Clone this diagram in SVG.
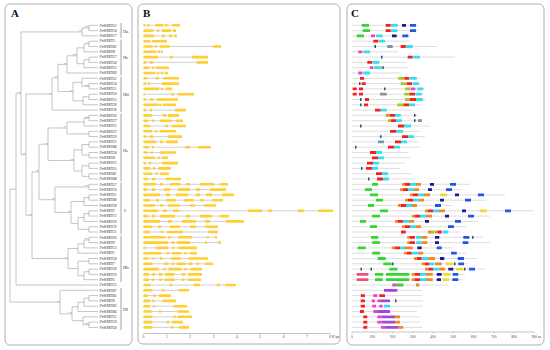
<svg xmlns="http://www.w3.org/2000/svg" width="550" height="350" viewBox="0 0 550 350">
<style>
.frame{fill:#fff;stroke:#9a9a9a;stroke-width:0.8}
.plab{font-family:"Liberation Serif",serif;font-weight:bold;font-size:11px;fill:#111}
.leaf{font-family:"Liberation Serif",serif;font-style:italic;font-size:3.6px;fill:#333}
.bs{font-family:"Liberation Sans",sans-serif;font-size:2.2px;fill:#666;text-anchor:end}
.grp{font-family:"Liberation Serif",serif;font-size:5px;fill:#444}
.tree{fill:none;stroke:#8a8a8a;stroke-width:0.5}
.brk{fill:none;stroke:#666;stroke-width:0.6}
.in{fill:none;stroke:#a0a0a0;stroke-width:0.5}
.ex{fill:none;stroke:#FFCF33;stroke-width:2.6}
.pl{fill:none;stroke:#d0d0d0;stroke-width:0.7}
.mo{fill:none;stroke-width:2.8}
.ax{fill:none;stroke:#888;stroke-width:0.5}
.tk{font-family:"Liberation Serif",serif;font-size:3.6px;fill:#444;text-anchor:middle}
</style>
<rect class="frame" x="5" y="4" width="127" height="341" rx="5"/>
<rect class="frame" x="138" y="4" width="202" height="340" rx="5"/>
<rect class="frame" x="347" y="4" width="197" height="341" rx="5"/>
<text class="plab" x="11" y="17">A</text>
<text class="plab" x="143" y="17">B</text>
<text class="plab" x="351" y="17">C</text>

<g id="tree">
<path class="tree" d="M98 25.3H89V30.6H98M89 27.95H82V35.9H98M98 41.2H89V46.5H98M89 43.85H84V51.8H98M98 57.1H89V62.4H98M89 59.75H84V67.7H98M84 47.83H77V63.73H84M77 55.78H67V73H98M98 83.6H89V88.9H98M98 78.3H82V86.25H89M98 94.2H89V99.5H98M89 96.85H83V104.8H98M82 82.28H73V100.83H83M67 64.39H58V91.55H73M58 77.97H52V110.1H98M98 115.4H89V120.7H98M89 118.05H84V126H98M98 131.3H89V136.6H98M84 122.03H67V133.95H89M98 141.9H89V147.2H98M98 152.5H89V157.8H98M89 144.55H82V155.15H89M98 163.1H89V168.4H98M98 173.7H89V179H98M89 165.75H82V176.35H89M82 149.85H74V171.05H82M67 127.99H48V160.45H74M98 184.3H89V189.6H98M98 194.9H89V200.2H98M89 197.55H84V205.5H98M98 210.8H89V216.1H98M89 213.45H84V221.4H98M98 226.7H89V232H98M84 217.43H78V229.35H89M84 201.53H71V223.39H78M89 186.95H55V212.46H71M48 144.22H39V199.71H55M98 237.3H89V242.6H98M89 239.95H84V247.9H98M84 243.93H78V253.2H98M98 258.5H89V263.8H98M98 269.1H89V274.4H98M89 271.75H84V279.7H98M89 261.15H78V275.73H84M78 248.57H68V268.44H78M39 171.97H32V258.51H68M52 94.04H26V215.24H32M82 31.93H21V154.64H26M21 93.29H16V285H98M98 295.6H89V300.9H98M89 298.25H84V306.2H98M84 302.23H78V311.5H98M98 322.1H89V327.4H98M98 316.8H83V324.75H89M78 306.87H72V320.78H83M98 290.3H60V313.83H72M16 189.15H10V302.07H60"/>
<text class="bs" x="88.5" y="27.4">100</text>
<text class="bs" x="81.5" y="31.4">99</text>
<text class="bs" x="88.5" y="43.3">99</text>
<text class="bs" x="76.5" y="55.2">100</text>
<text class="bs" x="66.5" y="63.8">78</text>
<text class="bs" x="88.5" y="85.7">100</text>
<text class="bs" x="72.5" y="91">99</text>
<text class="bs" x="57.5" y="77.4">96</text>
<text class="bs" x="51.5" y="93.5">74</text>
<text class="bs" x="88.5" y="117.5">100</text>
<text class="bs" x="66.5" y="127.4">99</text>
<text class="bs" x="73.5" y="159.9">86</text>
<text class="bs" x="47.5" y="143.7">96</text>
<text class="bs" x="88.5" y="186.4">100</text>
<text class="bs" x="70.5" y="211.9">93</text>
<text class="bs" x="54.5" y="199.2">99</text>
<text class="bs" x="38.5" y="171.4">58</text>
<text class="bs" x="88.5" y="239.4">100</text>
<text class="bs" x="67.5" y="258">99</text>
<text class="bs" x="31.5" y="214.7">96</text>
<text class="bs" x="25.5" y="154.1">64</text>
<text class="bs" x="20.5" y="92.8">96</text>
<text class="bs" x="88.5" y="324.2">100</text>
<text class="bs" x="71.5" y="313.3">98</text>
<text class="bs" x="59.5" y="301.5">99</text>
</g>

<g id="leaves">
<text class="leaf" x="99.5" y="26.5">PnWRKY53</text>
<text class="leaf" x="99.5" y="31.8">PnWRKY18</text>
<text class="leaf" x="99.5" y="37.1">PnWRKY17</text>
<text class="leaf" x="99.5" y="42.4">PnWRKY3</text>
<text class="leaf" x="99.5" y="47.7">PnWRKY42</text>
<text class="leaf" x="99.5" y="53">PnWRKY8</text>
<text class="leaf" x="99.5" y="58.3">PnWRKY27</text>
<text class="leaf" x="99.5" y="63.6">PnWRKY54</text>
<text class="leaf" x="99.5" y="68.9">PnWRKY25</text>
<text class="leaf" x="99.5" y="74.2">PnWRKY49</text>
<text class="leaf" x="99.5" y="79.5">PnWRKY52</text>
<text class="leaf" x="99.5" y="84.8">PnWRKY14</text>
<text class="leaf" x="99.5" y="90.1">PnWRKY11</text>
<text class="leaf" x="99.5" y="95.4">PnWRKY50</text>
<text class="leaf" x="99.5" y="100.7">PnWRKY15</text>
<text class="leaf" x="99.5" y="106">PnWRKY30</text>
<text class="leaf" x="99.5" y="111.3">PnWRKY36</text>
<text class="leaf" x="99.5" y="116.6">PnWRKY26</text>
<text class="leaf" x="99.5" y="121.9">PnWRKY37</text>
<text class="leaf" x="99.5" y="127.2">PnWRKY32</text>
<text class="leaf" x="99.5" y="132.5">PnWRKY23</text>
<text class="leaf" x="99.5" y="137.8">PnWRKY19</text>
<text class="leaf" x="99.5" y="143.1">PnWRKY33</text>
<text class="leaf" x="99.5" y="148.4">PnWRKY48</text>
<text class="leaf" x="99.5" y="153.7">PnWRKY34</text>
<text class="leaf" x="99.5" y="159">PnWRKY4</text>
<text class="leaf" x="99.5" y="164.3">PnWRKY22</text>
<text class="leaf" x="99.5" y="169.6">PnWRKY55</text>
<text class="leaf" x="99.5" y="174.9">PnWRKY41</text>
<text class="leaf" x="99.5" y="180.2">PnWRKY44</text>
<text class="leaf" x="99.5" y="185.5">PnWRKY57</text>
<text class="leaf" x="99.5" y="190.8">PnWRKY16</text>
<text class="leaf" x="99.5" y="196.1">PnWRKY51</text>
<text class="leaf" x="99.5" y="201.4">PnWRKY40</text>
<text class="leaf" x="99.5" y="206.7">PnWRKY38</text>
<text class="leaf" x="99.5" y="212">PnWRKY2</text>
<text class="leaf" x="99.5" y="217.3">PnWRKY12</text>
<text class="leaf" x="99.5" y="222.6">PnWRKY20</text>
<text class="leaf" x="99.5" y="227.9">PnWRKY39</text>
<text class="leaf" x="99.5" y="233.2">PnWRKY21</text>
<text class="leaf" x="99.5" y="238.5">PnWRKY56</text>
<text class="leaf" x="99.5" y="243.8">PnWRKY9</text>
<text class="leaf" x="99.5" y="249.1">PnWRKY13</text>
<text class="leaf" x="99.5" y="254.4">PnWRKY1</text>
<text class="leaf" x="99.5" y="259.7">PnWRKY24</text>
<text class="leaf" x="99.5" y="265">PnWRKY7</text>
<text class="leaf" x="99.5" y="270.3">PnWRKY28</text>
<text class="leaf" x="99.5" y="275.6">PnWRKY29</text>
<text class="leaf" x="99.5" y="280.9">PnWRKY5</text>
<text class="leaf" x="99.5" y="286.2">PnWRKY35</text>
<text class="leaf" x="99.5" y="291.5">PnWRKY47</text>
<text class="leaf" x="99.5" y="296.8">PnWRKY45</text>
<text class="leaf" x="99.5" y="302.1">PnWRKY6</text>
<text class="leaf" x="99.5" y="307.4">PnWRKY43</text>
<text class="leaf" x="99.5" y="312.7">PnWRKY46</text>
<text class="leaf" x="99.5" y="318">PnWRKY31</text>
<text class="leaf" x="99.5" y="323.3">PnWRKY10</text>
<text class="leaf" x="99.5" y="328.6">PnWRKY58</text>
</g>

<g id="groups">
<path class="brk" d="M121 23V38M121 39.5V75M121 76.5V112M121 113.5V181.5M121 182.5V234M121 235.5V282M121 288V330"/>
<text class="grp" x="123" y="32.5">IIa</text>
<text class="grp" x="123" y="58.5">IIc</text>
<text class="grp" x="123" y="95.5">IId</text>
<text class="grp" x="123" y="152">IIe</text>
<text class="grp" x="124" y="212">I</text>
<text class="grp" x="123" y="268.5">IIb</text>
<text class="grp" x="123" y="311">III</text>
</g>

<g id="genes">
<path class="in" d="M143.5 25.3H180M143.5 30.6H176M143.5 35.9H177M143.5 41.2H167M143.5 46.5H221M143.5 51.8H163M143.5 57.1H208M143.5 62.4H208M143.5 67.7H169M143.5 73H168M143.5 78.3H179M143.5 83.6H179M143.5 88.9H172M143.5 94.2H194M143.5 99.5H178M143.5 104.8H176M143.5 110.1H186M143.5 115.4H179M143.5 120.7H183M143.5 126H186M143.5 131.3H176M143.5 136.6H182M143.5 141.9H178M143.5 147.2H211M143.5 152.5H176M143.5 157.8H168M143.5 163.1H178M143.5 168.4H171M143.5 173.7H169M143.5 179H181M143.5 184.3H228M143.5 189.6H226M143.5 194.9H234M143.5 200.2H223M143.5 205.5H216M143.5 210.8H333M143.5 216.1H229M143.5 221.4H244M143.5 226.7H218M143.5 232H218M143.5 237.3H217M143.5 242.6H221M143.5 247.9H197M143.5 253.2H197M143.5 258.5H208M143.5 263.8H213M143.5 269.1H202M143.5 274.4H202M143.5 279.7H201M143.5 285H236M143.5 290.3H189M143.5 295.6H171M143.5 300.9H176M143.5 306.2H187M143.5 311.5H189M143.5 316.8H192M143.5 322.1H183M143.5 327.4H189"/>
<path class="ex" d="M143.5 25.3H145.5M147.5 25.3H149.5M155.5 25.3H163.5M165 25.3H167.5M172.5 25.3H180M143.5 30.6H153M157 30.6H159M162 30.6H171M173 30.6H176M143.5 35.9H154M162 35.9H165M169 35.9H172M174 35.9H177M143.5 41.2H150M152 41.2H167M143.5 46.5H152.5M155 46.5H157M160 46.5H170M213 46.5H221M143.5 51.8H156M158 51.8H160M161 51.8H163M143.5 57.1H158M170 57.1H173M192 57.1H208M143.5 62.4H146.5M150 62.4H153M196.7 62.4H208M143.5 67.7H149M152 67.7H154M156 67.7H169M143.5 73H155M157 73H159M161 73H163M165 73H168M143.5 78.3H147M155.7 78.3H159M163.3 78.3H179M143.5 83.6H146M148 83.6H150M162 83.6H179M143.5 88.9H159M161 88.9H163M166 88.9H172M143.5 94.2H145M171 94.2H174M178 94.2H194M143.5 99.5H146M150 99.5H153M157 99.5H178M143.5 104.8H158M159 104.8H161M163 104.8H176M143.5 110.1H146M150 110.1H152M175 110.1H186M143.5 115.4H152M163 115.4H166M168 115.4H179M143.5 120.7H148M152 120.7H154M160 120.7H172M176 120.7H183M143.5 126H150M165 126H168M172 126H186M143.5 131.3H152M155 131.3H157M160 131.3H176M143.5 136.6H146M150 136.6H153M168 136.6H182M143.5 141.9H156M160 141.9H163M166 141.9H178M143.5 147.2H149M152 147.2H154M185 147.2H190M198 147.2H211M143.5 152.5H147M151 152.5H153M160 152.5H176M143.5 157.8H155M158 157.8H160M162 157.8H168M143.5 163.1H145.5M149 163.1H151M162 163.1H178M143.5 168.4H150M153 168.4H155M158 168.4H171M143.5 173.7H152M156 173.7H158M160 173.7H169M143.5 179H148M152 179H155M166 179H181M143.5 184.3H156M160 184.3H163M170 184.3H180M186 184.3H190M200 184.3H214M220 184.3H228M143.5 189.6H147M152 189.6H155M164 189.6H170M178 189.6H190M196 189.6H200M210 189.6H226M143.5 194.9H160M166 194.9H170M176 194.9H188M196 194.9H200M206 194.9H212M222 194.9H234M143.5 200.2H150M156 200.2H159M166 200.2H176M184 200.2H194M200 200.2H204M212 200.2H223M143.5 205.5H155M160 205.5H163M168 205.5H180M190 205.5H195M204 205.5H216M143.5 210.8H158M163 210.8H167M173 210.8H179M248 210.8H262M268 210.8H272M298 210.8H304M318 210.8H333M143.5 216.1H148M152 216.1H155M160 216.1H175M186 216.1H190M200 216.1H212M220 216.1H229M143.5 221.4H160M168 221.4H172M182 221.4H196M205 221.4H210M226 221.4H244M143.5 226.7H152M158 226.7H161M170 226.7H180M190 226.7H196M205 226.7H218M143.5 232H150M161 232H163M167 232H183M208 232H218M143.5 237.3H165M168 237.3H171M178 237.3H192M207 237.3H208.5M215 237.3H217M143.5 242.6H168M171.7 242.6H174.3M176.7 242.6H190M205 242.6H206.7M218.3 242.6H221M143.5 247.9H145M155.7 247.9H168.3M172.3 247.9H174.3M178.3 247.9H197M143.5 253.2H161M166.7 253.2H169M172.3 253.2H181M184.3 253.2H186.7M190 253.2H197M143.5 258.5H148.3M152.3 258.5H154.3M160 258.5H162.3M171 258.5H181M188.3 258.5H208M143.5 263.8H152.3M164.3 263.8H168.3M171.7 263.8H174.3M176.7 263.8H185.7M188.3 263.8H192.3M196.7 263.8H199M205 263.8H213M143.5 269.1H159M163.3 269.1H165.7M168.3 269.1H181.7M184.3 269.1H186.7M190 269.1H202M143.5 274.4H149M152.3 274.4H155M159 274.4H162.3M165 274.4H174.3M181.7 274.4H185M188.3 274.4H202M143.5 279.7H149M151.7 279.7H154.3M159 279.7H161.7M164.3 279.7H175M181.7 279.7H184.3M188.3 279.7H201M143.5 285H151M170 285H172.3M193.3 285H200M216.7 285H220M225 285H236M143.5 290.3H152.3M161.7 290.3H164.3M178.3 290.3H189M143.5 295.6H147.7M153.3 295.6H155.7M159 295.6H171M143.5 300.9H150M152.3 300.9H154.3M162.3 300.9H176M143.5 306.2H150M153.3 306.2H155M173.3 306.2H187M143.5 311.5H151.7M159 311.5H161M177.7 311.5H189M143.5 316.8H152.3M173.3 316.8H175.7M177.7 316.8H192M143.5 322.1H152.3M166.7 322.1H169M172.3 322.1H183M143.5 327.4H152.3M171 327.4H173.3M179 327.4H189"/>
<path class="ax" d="M143.5 333.5H330.3M143.5 333.5V334.6M166.85 333.5V334.6M190.2 333.5V334.6M213.55 333.5V334.6M236.9 333.5V334.6M260.25 333.5V334.6M283.6 333.5V334.6M306.95 333.5V334.6M330.3 333.5V334.6"/>
<text class="tk" x="143.5" y="338.3">0</text>
<text class="tk" x="166.85" y="338.3">1</text>
<text class="tk" x="190.2" y="338.3">2</text>
<text class="tk" x="213.55" y="338.3">3</text>
<text class="tk" x="236.9" y="338.3">4</text>
<text class="tk" x="260.25" y="338.3">5</text>
<text class="tk" x="283.6" y="338.3">6</text>
<text class="tk" x="306.95" y="338.3">7</text>
<text class="tk" x="329.3" y="338.3" style="text-anchor:start">8 K bp</text>
</g>

<g id="motifs">
<path class="pl" d="M352 25.3H418M352 30.6H418M352 35.9H410M352 41.2H410M352 46.5H437M352 51.8H398M352 57.1H455M352 62.4H406M352 67.7H408M352 73H400M352 78.3H420M352 83.6H420M352 88.9H424M352 94.2H424M352 99.5H426M352 104.8H420M352 110.1H412M352 115.4H418M352 120.7H422M352 126H430M352 131.3H420M352 136.6H425M352 141.9H418M352 147.2H420M352 152.5H408M352 157.8H410M352 163.1H405M352 168.4H400M352 173.7H412M352 179H414M352 184.3H470M352 189.6H462M352 194.9H505M352 200.2H486M352 205.5H452M352 210.8H534M352 216.1H490M352 221.4H478M352 226.7H466M352 232H460M352 237.3H483M352 242.6H490M352 247.9H453M352 253.2H466M352 258.5H477M352 263.8H467M352 269.1H485M352 274.4H465M352 279.7H463M352 285H448M352 290.3H422M352 295.6H422M352 300.9H423M352 306.2H423M352 311.5H417M352 316.8H420M352 322.1H420M352 327.4H422"/>
<path class="mo" stroke="#33D633" d="M361.7 25.3H369M362.7 30.6H370M356.7 35.9H364M372 184.3H378M365 189.6H372M370 194.9H378M376 200.2H383M368 205.5H374M380 210.8H388M372 216.1H380M360 221.4H366M370 226.7H377M371 237.3H378.3M372.3 242.6H380M357.7 247.9H365.7M372.3 253.2H380M377.7 258.5H385.7M383.3 263.8H391.7M389.3 269.1H397.3M375 274.4H383.3M386 274.4H409.3M375 279.7H382.7M386 279.7H409.3M396.7 285H403.3"/>
<path class="mo" stroke="#F52020" d="M385.7 25.3H390.7M385.7 30.6H390.7M373.3 41.2H378.3M400.7 46.5H405.7M407.7 57.1H412.7M367.3 62.4H372.3M360 78.3H364M404.3 78.3H409.3M361.7 83.6H365.7M406.7 83.6H412M352.7 88.9H356.7M359 88.9H363M352.7 94.2H356.7M359 94.2H363M409.3 94.2H415M365 99.5H369M410 99.5H416M364 104.8H368M403.3 104.8H409.3M375 110.1H380.7M390 115.4H395M391 120.7H396M398 126H404M390 131.3H396M402 136.6H408M395 141.9H401M388 147.2H394M370 152.5H376M372 157.8H378M367 163.1H373M366 168.4H372M376 173.7H382M377 179H383M405 184.3H410M403 189.6H408M413 194.9H418M408 200.2H413M401 205.5H406M428 210.8H433M415 216.1H420M398 221.4H403M405 226.7H410M401 232H405.7M438 232H441.7M410 237.3H415M410 242.6H415M395 247.9H400M406.7 253.2H411.7M416.7 258.5H421.7M425 263.8H429.3M428.3 269.1H433.3M415 274.4H420M415 279.7H420M360.7 295.6H365M379.3 295.6H385M360.7 300.9H365M360.7 306.2H365M360 311.5H364M363.3 316.8H367.3M363.3 322.1H367.3M363.3 327.4H367.3"/>
<path class="mo" stroke="#33E0EE" d="M391 25.3H397.7M391 30.6H397.3M376 35.9H382.7M379 41.2H385M406 46.5H412.7M363.3 51.8H370M413.3 57.1H420M372.7 62.4H379.3M374 67.7H381.7M363.3 73H370M410 78.3H416.7M412.7 83.6H419M417.3 88.9H423.3M415.3 94.2H421.7M416 99.5H422.7M409.3 104.8H415M380.7 110.1H386.7M395 115.4H400.7M396 120.7H402M404 126H411M396 131.3H403M408 136.6H414M401 141.9H407M394 147.2H400M376 152.5H382M378 157.8H384M373 163.1H379M372 168.4H378M382 173.7H388M383 179H389M410 184.3H416M408 189.6H414M418 194.9H424M413 200.2H419M406 205.5H412M433 210.8H439M420 216.1H426M403 221.4H409M410 226.7H416M442.7 232H448.3M416 237.3H421.7M416 242.6H421.7M400 247.9H405M411.7 253.2H418.3M421.7 258.5H428.3M429.3 263.8H434.3M433.3 269.1H439.3M420 274.4H426M420 279.7H426M384 306.2H390"/>
<path class="mo" stroke="#1A1A9A" d="M402 25.3H406M392 35.9H396.7M430 184.3H434M428 189.6H432M455 194.9H459M440 200.2H444M462 210.8H466M445 216.1H449M425 221.4H429M435 237.3H439.3M435 242.6H439M417.3 247.9H421.7M440 258.5H444.3M448.3 269.1H453.3M436.7 274.4H441.7M436.7 279.7H441"/>
<path class="mo" stroke="#2255E8" d="M410 25.3H416M410 30.6H416M402.3 35.9H408.3M450 184.3H456M446 189.6H452M478 194.9H484M465 200.2H471M435 205.5H441M505 210.8H511M468 216.1H474M455 221.4H461M448 226.7H454M463.3 237.3H469.3M462.7 242.6H468.3M436.7 247.9H441.7M451 253.2H456.7M457.7 258.5H464M458.3 263.8H464M469 269.1H475M452.7 274.4H458.3M452.3 279.7H458.3"/>
<path class="mo" stroke="#E845C8" d="M371 35.9H375M358.3 51.8H362.3M370 67.7H373.3M358.3 73H362.3M410.7 88.9H415.3M392.3 285H396.7M373.3 295.6H377.3M371.7 300.9H375M377.3 300.9H380M372.3 306.2H376M379.3 306.2H382.7M373.3 311.5H377.3M377.3 316.8H381.7M377.3 322.1H381.7M381 327.4H385"/>
<path class="mo" stroke="#F0507A" d="M356.7 274.4H368.3M356.7 279.7H368.3"/>
<path class="mo" stroke="#AFC422" d="M398.3 78.3H404M400.7 83.6H406.7M405 88.9H410M404.3 94.2H409.3M405 99.5H410M397.3 104.8H403.3M388 120.7H391M431 232H434.5"/>
<path class="mo" stroke="#EE8A22" d="M385.7 115.4H390M402 184.3H405M416 184.3H421M400 189.6H403M414 189.6H419M410 194.9H413M424 194.9H430M405 200.2H408M419 200.2H424M398 205.5H401M412 205.5H417M425 210.8H428M439 210.8H445M412 216.1H415M426 216.1H432M395 221.4H398M409 221.4H414M402 226.7H405M416 226.7H421M428 232H431M435 232H438M407.3 237.3H410M421.7 237.3H427.3M407.3 242.6H410M421.7 242.6H427.3M391.7 247.9H395M405 247.9H412.7M404 253.2H406.7M418.3 253.2H423.3M414 258.5H416.7M428.3 258.5H435M421.7 263.8H425M435 263.8H441.7M425 269.1H428.3M439.3 269.1H445M411.7 274.4H415M426 274.4H432.7M411.7 279.7H415M426 279.7H432.7M416 285H419.3M395 316.8H400M395 322.1H400M398.3 327.4H403.3"/>
<path class="mo" stroke="#EEDC30" d="M440 194.9H447M480 210.8H487M446 263.8H453.3M456 269.1H463.3M443.3 274.4H450.7M442.7 279.7H449.3"/>
<path class="mo" stroke="#A245E0" d="M384 290.3H397.3M380 300.9H390M377.3 311.5H390M381.7 316.8H395M381.7 322.1H395M385 327.4H398.3"/>
<path class="mo" stroke="#2E4E6E" d="M374.5 46.5H376M381 57.1H382.5M382.3 67.7H383.8M359 83.6H360.5M384 88.9H385.5M360 99.5H361.5M360 104.8H361.5M414 115.4H415.5M414 120.7H415.5M360 126H361.5M380 136.6H381.5M355 147.2H356.5M361 168.4H362.5M368 179H369.5M472 237.3H473.5M392 263.8H393.5M454 263.8H455.5M360.5 269.1H362M370.5 269.1H372M464 269.1H465.5M395 300.9H396.5"/>
<path class="mo" stroke="#7A97AA" d="M387.3 46.5H392.7M380 94.2H386.7M418 120.7H422M378 141.9H384"/>
<path class="ax" d="M352 332H534.25M352 332V333.1M372.25 332V333.1M392.5 332V333.1M412.75 332V333.1M433 332V333.1M453.25 332V333.1M473.5 332V333.1M493.75 332V333.1M514 332V333.1M534.25 332V333.1"/>
<text class="tk" x="352" y="337.5">0</text>
<text class="tk" x="372.25" y="337.5">100</text>
<text class="tk" x="392.5" y="337.5">200</text>
<text class="tk" x="412.75" y="337.5">300</text>
<text class="tk" x="433" y="337.5">400</text>
<text class="tk" x="453.25" y="337.5">500</text>
<text class="tk" x="473.5" y="337.5">600</text>
<text class="tk" x="493.75" y="337.5">700</text>
<text class="tk" x="514" y="337.5">800</text>
<text class="tk" x="531.5" y="337.5" style="text-anchor:start">900 aa</text>
</g>
</svg>
